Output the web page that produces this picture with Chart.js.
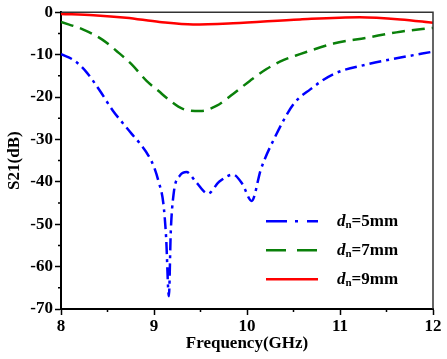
<!DOCTYPE html>
<html>
<head>
<meta charset="utf-8">
<script src="https://cdn.jsdelivr.net/npm/chart.js@4/dist/chart.umd.min.js"></script>
<style>
html,body{margin:0;padding:0;background:#fff;}
#wrap{width:447px;height:359px;position:relative;}
</style>
</head>
<body>
<div id="wrap"><canvas id="c" width="447" height="359"></canvas></div>
<script>
// ---- data ----
const freq5 = [8, 8.15, 8.28, 8.42, 8.56, 8.67, 8.76, 8.85, 8.94, 9.0, 9.05, 9.1, 9.13, 9.16, 9.18, 9.21, 9.28, 9.35, 9.45, 9.58, 9.7, 9.85, 9.95, 10.05, 10.15, 10.3, 10.5, 10.68, 10.93, 11.29, 11.65, 12];
const s21_5 = [-9.9, -11.5, -14.3, -18.6, -23.3, -26.3, -28.7, -31, -33.8, -36.5, -40, -45, -53, -67, -52, -43, -38.5, -37.7, -40, -42.8, -40, -38.3, -40.5, -44.5, -37, -29.5, -21.7, -18.2, -14.6, -12.3, -10.7, -9.3];
const freq7 = [8, 8.24, 8.44, 8.6, 8.76, 8.92, 9.05, 9.14, 9.31, 9.5, 9.67, 9.85, 10.03, 10.21, 10.39, 10.57, 10.93, 11.29, 11.65, 12];
const s21_7 = [-2.3, -4.1, -6.4, -9.2, -12.3, -16.2, -18.6, -20.3, -22.8, -23.3, -22.1, -19.3, -16.2, -13.4, -11.3, -9.9, -7.4, -6, -4.6, -3.7];
const freq9 = [8, 8.35, 8.7, 9.06, 9.42, 9.85, 10.57, 11.21, 11.65, 12];
const s21_9 = [-0.4, -0.7, -1.3, -2.3, -2.9, -2.6, -1.7, -1.2, -1.7, -2.5];
const seriesValues = ['5mm', '7mm', '9mm'];
const xTicks = [8, 9, 10, 11, 12];
const yTicks = [0, -10, -20, -30, -40, -50, -60, -70];

const toXY = (xs, ys) => xs.map((x, i) => ({x: x, y: ys[i]}));

const FONT = "'Liberation Serif', 'Times New Roman', serif";

const frameAndMinor = {
  id: 'frameAndMinor',
  afterDraw(chart) {
    const ctx = chart.ctx, a = chart.chartArea;
    const xs = chart.scales.x, ys = chart.scales.y;
    ctx.save();
    // top/right frame
    ctx.strokeStyle = '#333';
    ctx.lineWidth = 1.5;
    ctx.beginPath();
    ctx.moveTo(a.left, a.top);
    ctx.lineTo(a.right, a.top);
    ctx.lineTo(a.right, a.bottom);
    ctx.stroke();
    // minor ticks
    ctx.strokeStyle = '#000';
    ctx.lineWidth = 1.5;
    ctx.beginPath();
    for (let i = 0; i < xTicks.length - 1; i++) {
      const px = xs.getPixelForValue((xTicks[i] + xTicks[i + 1]) / 2);
      ctx.moveTo(px, a.bottom);
      ctx.lineTo(px, a.bottom + 3);
    }
    for (let i = 0; i < yTicks.length - 1; i++) {
      const py = ys.getPixelForValue((yTicks[i] + yTicks[i + 1]) / 2);
      ctx.moveTo(a.left, py);
      ctx.lineTo(a.left - 3, py);
    }
    ctx.stroke();

    // legend
    const lx0 = a.left + 205, lx1 = lx0 + 52, tx = lx0 + 71;
    const ly0 = a.top + 209, dy = 29;
    chart.data.datasets.forEach((ds, i) => {
      const y = ly0 + i * dy;
      ctx.strokeStyle = ds.borderColor;
      ctx.lineWidth = ds.borderWidth;
      ctx.setLineDash(ds.legendDash || []);
      ctx.beginPath();
      ctx.moveTo(lx0, y);
      ctx.lineTo(lx1, y);
      ctx.stroke();
      ctx.setLineDash([]);
      ctx.fillStyle = '#000';
      ctx.textBaseline = 'middle';
      ctx.textAlign = 'left';
      let x = tx;
      ctx.font = 'italic bold 17px ' + FONT;
      ctx.fillText('d', x, y);
      x += ctx.measureText('d').width;
      ctx.font = 'bold 11px ' + FONT;
      ctx.fillText('n', x, y + 4);
      x += ctx.measureText('n').width;
      ctx.font = 'bold 17px ' + FONT;
      ctx.fillText('=' + seriesValues[i], x, y);
    });
    ctx.restore();
  }
};

new Chart(document.getElementById('c'), {
  type: 'line',
  data: {
    datasets: [
      {label: 'dn=' + seriesValues[0], data: toXY(freq5, s21_5), borderColor: '#0000ff', borderWidth: 2.5,
       borderDash: [12, 5, 3, 5], legendDash: [21, 8, 3, 9], pointRadius: 0, cubicInterpolationMode: 'monotone', fill: false},
      {label: 'dn=' + seriesValues[1], data: toXY(freq7, s21_7), borderColor: '#0a800a', borderWidth: 2.5,
       borderDash: [13, 7], legendDash: [20, 11], pointRadius: 0, cubicInterpolationMode: 'monotone', fill: false},
      {label: 'dn=' + seriesValues[2], data: toXY(freq9, s21_9), borderColor: '#ff0000', borderWidth: 2.5,
       pointRadius: 0, cubicInterpolationMode: 'monotone', fill: false}
    ]
  },
  options: {
    responsive: false,
    animation: false,
    layout: {padding: {top: 11, right: 14, left: 0, bottom: 0}},
    plugins: {legend: {display: false}, tooltip: {enabled: false}},
    scales: {
      x: {
        type: 'linear', min: 8, max: 12,
        afterBuildTicks: s => { s.ticks = xTicks.map(v => ({value: v})); },
        afterFit: s => { s.height = 50; },
        ticks: {color: '#000', font: {family: FONT, size: 17, weight: 'bold'}, padding: 1, maxRotation: 0},
        grid: {drawOnChartArea: false, tickLength: 6, tickWidth: 1.5, tickColor: '#000'},
        border: {display: true, color: '#000', width: 2},
        title: {display: true, text: 'Frequency(GHz)', color: '#000', font: {family: FONT, size: 17, weight: 'bold'}, padding: {top: 0, bottom: 5}}
      },
      y: {
        type: 'linear', min: -70, max: 0,
        afterBuildTicks: s => { s.ticks = yTicks.map(v => ({value: v})); },
        afterFit: s => { s.width = 61; },
        ticks: {color: '#000', font: {family: FONT, size: 17, weight: 'bold'}, padding: 2},
        grid: {drawOnChartArea: false, tickLength: 6, tickWidth: 1.5, tickColor: '#000'},
        border: {display: true, color: '#000', width: 2},
        title: {display: true, text: 'S21(dB)', color: '#000', font: {family: FONT, size: 17, weight: 'bold'}, padding: {top: 4, bottom: 0}}
      }
    }
  },
  plugins: [frameAndMinor]
});
</script>
</body>
</html>
